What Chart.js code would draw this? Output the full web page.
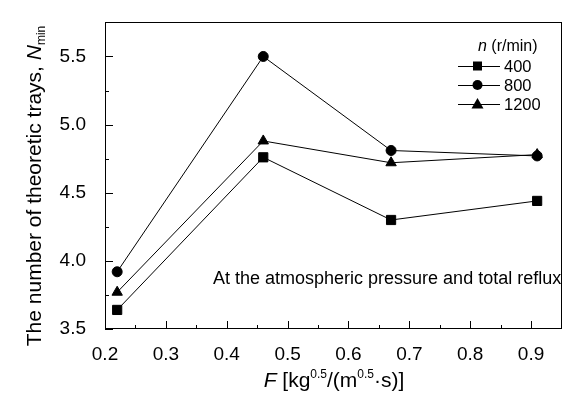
<!DOCTYPE html>
<html>
<head>
<meta charset="utf-8">
<script src="https://cdn.jsdelivr.net/npm/chart.js@4/dist/chart.umd.min.js"></script>
<style>
  html, body { margin: 0; padding: 0; background: #fff; }
  #wrap { width: 569px; height: 401px; }
</style>
</head>
<body>
<div id="wrap"><canvas id="chart" width="569" height="401"></canvas></div>
<script>
// F factor (x) and minimum theoretic trays for each stirring speed
const fValues = [0.22, 0.46, 0.67, 0.91];
const n400 = [3.64, 4.76, 4.30, 4.44];
const n800 = [3.92, 5.50, 4.81, 4.77];
const n1200 = [3.77, 4.88, 4.72, 4.78];

const seriesLabels = ['400', '800', '1200'];
const xTicks = [0.2, 0.3, 0.4, 0.5, 0.6, 0.7, 0.8, 0.9];
const xMinor = [0.25, 0.35, 0.45, 0.55, 0.65, 0.75, 0.85];
const yTicks = [3.5, 4.0, 4.5, 5.0, 5.5];
const yMinor = [3.75, 4.25, 4.75, 5.25];

const FONT = 'Arial, "Liberation Sans", sans-serif';

const toPoints = (ys) => fValues.map((x, i) => ({ x: x, y: ys[i] }));

const makeSet = (label, ys, style, radius) => ({
  label: label,
  data: toPoints(ys),
  borderColor: '#000',
  backgroundColor: '#000',
  pointBackgroundColor: '#000',
  pointBorderColor: '#000',
  borderWidth: 1,
  pointBorderWidth: 1,
  pointStyle: style,
  pointRadius: radius,
  lineTension: 0
});

// draw a marker in the legend
const drawMarker = (ctx, style, x, y) => {
  ctx.beginPath();
  if (style === 'rect') {
    ctx.rect(x - 4.5, y - 4.5, 9, 9);
  } else if (style === 'circle') {
    ctx.arc(x, y, 5, 0, Math.PI * 2);
  } else {
    ctx.moveTo(x, y - 6);
    ctx.lineTo(x + 6, y + 4.5);
    ctx.lineTo(x - 6, y + 4.5);
    ctx.closePath();
  }
  ctx.fill();
};

// draw a run of text pieces ; pieces: {t, font, dy}
const drawPieces = (ctx, pieces, x, y) => {
  let cx = x;
  pieces.forEach(p => {
    ctx.font = p.font;
    ctx.fillText(p.t, cx, y + (p.dy || 0));
    cx += ctx.measureText(p.t).width;
  });
  return cx - x;
};
const measurePieces = (ctx, pieces) => {
  let w = 0;
  pieces.forEach(p => { ctx.font = p.font; w += ctx.measureText(p.t).width; });
  return w;
};

const decorations = {
  id: 'decorations',
  afterDraw(chart) {
    const ctx = chart.ctx;
    const a = chart.chartArea;
    const xs = chart.scales.x, ys = chart.scales.y;
    ctx.save();
    ctx.strokeStyle = '#000';
    ctx.fillStyle = '#000';
    ctx.lineWidth = 1;

    // frame
    ctx.strokeRect(Math.round(a.left) + 0.5, Math.round(a.top) + 0.5,
      Math.round(a.right - a.left) - 1, Math.round(a.bottom - a.top) - 1);

    // inward ticks
    ctx.beginPath();
    xTicks.forEach(v => { const px = Math.round(xs.getPixelForValue(v)) + 0.5; ctx.moveTo(px, a.bottom); ctx.lineTo(px, a.bottom - 8); });
    xMinor.forEach(v => { const px = Math.round(xs.getPixelForValue(v)) + 0.5; ctx.moveTo(px, a.bottom); ctx.lineTo(px, a.bottom - 4); });
    yTicks.forEach(v => { const py = Math.round(ys.getPixelForValue(v)) + 0.5; ctx.moveTo(a.left, py); ctx.lineTo(a.left + 8, py); });
    yMinor.forEach(v => { const py = Math.round(ys.getPixelForValue(v)) + 0.5; ctx.moveTo(a.left, py); ctx.lineTo(a.left + 4, py); });
    ctx.stroke();

    // legend
    ctx.textBaseline = 'alphabetic';
    ctx.textAlign = 'left';
    drawPieces(ctx, [
      { t: 'n', font: 'italic 16px ' + FONT },
      { t: ' (r/min)', font: '16px ' + FONT }
    ], 478, 51);
    chart.data.datasets.forEach((ds, i) => {
      const y = 66 + i * 19;
      ctx.beginPath();
      ctx.moveTo(458, y + 0.5);
      ctx.lineTo(500, y + 0.5);
      ctx.stroke();
      drawMarker(ctx, ds.pointStyle, 477.5, y);
      ctx.font = '16.5px ' + FONT;
      ctx.textBaseline = 'middle';
      ctx.fillText(ds.label, 504, y + 1);
      ctx.textBaseline = 'alphabetic';
    });

    // annotation
    ctx.font = '18px ' + FONT;
    ctx.textBaseline = 'middle';
    ctx.fillText('At the atmospheric pressure and total reflux', 213, 279);

    // x title
    ctx.textBaseline = 'alphabetic';
    const xt = [
      { t: 'F', font: 'italic 21px ' + FONT },
      { t: ' [kg', font: '21px ' + FONT },
      { t: '0.5', font: '12px ' + FONT, dy: -9 },
      { t: '/(m', font: '21px ' + FONT },
      { t: '0.5', font: '12px ' + FONT, dy: -9 },
      { t: '\u00b7s)]', font: '21px ' + FONT }
    ];
    const xw = measurePieces(ctx, xt);
    drawPieces(ctx, xt, 334 - xw / 2, 387);

    // y title
    const yt = [
      { t: 'The number of theoretic trays, ', font: '21px ' + FONT },
      { t: 'N', font: 'italic 21px ' + FONT },
      { t: 'min', font: '12px ' + FONT, dy: 4 }
    ];
    const yw = measurePieces(ctx, yt);
    ctx.translate(41, 186);
    ctx.rotate(-Math.PI / 2);
    drawPieces(ctx, yt, -yw / 2, 0);

    ctx.restore();
  }
};

new Chart(document.getElementById('chart'), {
  type: 'line',
  data: {
    datasets: [
      makeSet(seriesLabels[0], n400, 'rect', 6.5),
      makeSet(seriesLabels[1], n800, 'circle', 5),
      makeSet(seriesLabels[2], n1200, 'triangle', 6)
    ]
  },
  options: {
    responsive: false,
    animation: false,
    devicePixelRatio: 1,
    layout: { padding: { top: 22, right: 1, left: 0, bottom: 0 } },
    plugins: { legend: { display: false }, tooltip: { enabled: false } },
    scales: {
      x: {
        type: 'linear',
        min: 0.2,
        max: 0.95,
        afterBuildTicks: s => { s.ticks = xTicks.map(v => ({ value: v })); },
        afterFit: s => { s.height = 72; },
        grid: { display: false },
        border: { display: false },
        ticks: { color: '#000', font: { family: FONT, size: 19 }, padding: 6, maxRotation: 0,
          callback: v => v.toFixed(1) }
      },
      y: {
        type: 'linear',
        min: 3.5,
        max: 5.75,
        afterBuildTicks: s => { s.ticks = yTicks.map(v => ({ value: v })); },
        afterFit: s => { s.width = 105; },
        grid: { display: false },
        border: { display: false },
        ticks: { color: '#000', font: { family: FONT, size: 19 }, padding: 11,
          callback: v => v.toFixed(1) }
      }
    }
  },
  plugins: [decorations]
});
</script>
</body>
</html>
